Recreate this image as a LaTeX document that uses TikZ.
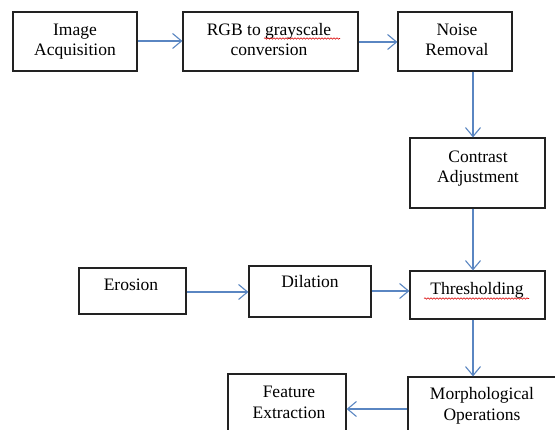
\documentclass[tikz,border=0pt]{standalone}
\usepackage{fontspec}
\setmainfont{Liberation Serif}
\usetikzlibrary{arrows.meta,decorations.pathmorphing}
\definecolor{arrowblue}{HTML}{5A86C2}
\definecolor{boxline}{HTML}{222222}
\newcommand\dualline[2]{\begin{tabular}[t]{@{}c@{}}#1\\#2\end{tabular}}
\tikzset{
  stagebox/.style={draw=boxline, line width=1.2pt, fill=white, inner sep=0pt},
  lbl/.style={anchor=base, inner sep=0pt, font=\fontsize{17.5}{20.5}\selectfont},
  flow/.style={draw=arrowblue, line width=1.1pt, -{Straight Barb[length=9pt,width=15pt,line width=1.1pt]}},
  spell/.style={draw=red!85!black, line width=0.6pt, decorate, decoration={snake, amplitude=0.7pt, segment length=3pt}}
}
\begin{document}
\begin{tikzpicture}[x=1pt,y=-1pt]
\useasboundingbox (0,0) rectangle (555,430);
\clip (0,0) rectangle (555,430);
\fill[white] (0,0) rectangle (555,430);
% boxes
\node[stagebox, minimum width=124pt, minimum height=59pt] (ia) at (75,41.5) {};
\node[stagebox, minimum width=175pt, minimum height=59pt] (rgb) at (270.5,41.5) {};
\node[stagebox, minimum width=114pt, minimum height=59pt] (nr) at (455,41.5) {};
\node[stagebox, minimum width=135pt, minimum height=70pt] (ca) at (477.5,173) {};
\node[stagebox, minimum width=135pt, minimum height=48pt] (th) at (477.5,295) {};
\node[stagebox, minimum width=107pt, minimum height=46pt] (er) at (132.5,291) {};
\node[stagebox, minimum width=122pt, minimum height=51pt] (di) at (310,291.5) {};
\node[stagebox, minimum width=152pt, minimum height=73pt] (mo) at (484,413.5) {};
\node[stagebox, minimum width=118pt, minimum height=76pt] (fe) at (287,412) {};
% labels
\node[lbl] (ia-t) at (75,35.5) {\dualline{Image}{Acquisition}};
\node[lbl] (rgb-t) at (269,35.5) {\dualline{RGB to grayscale}{conversion}};
\node[lbl] (nr-t) at (457,35.5) {\dualline{Noise}{Removal}};
\node[lbl] (ca-t) at (478,162.5) {\dualline{Contrast}{Adjustment}};
\node[lbl] (th-t) at (477,295) {Thresholding};
\node[lbl] (er-t) at (131,291) {Erosion};
\node[lbl] (di-t) at (310,288) {Dilation};
\node[lbl] (mo-t) at (482,400) {\dualline{Morphological}{Operations}};
\node[lbl] (fe-t) at (289,398) {\dualline{Feature}{Extraction}};
% spell-check underlines
\coordinate (sp1a) at (264,38.5);
\coordinate (sp1b) at (340,38.5);
\coordinate (sp2a) at (424,298.5);
\coordinate (sp2b) at (529,298.5);
\draw[spell] (sp1a) -- (sp1b);
\draw[spell] (sp2a) -- (sp2b);
% guide coordinates
\coordinate (vx) at (473,0);
\coordinate (y41) at (0,41);
\coordinate (y42) at (0,42);
\coordinate (y292) at (0,292);
\coordinate (y291) at (0,291);
\coordinate (y409) at (0,409);
% connectors
\draw[flow] (ia.east |- y41) -- (rgb.west |- y41);
\draw[flow] (rgb.east |- y42) -- (nr.west |- y42);
\draw[flow] (nr.south -| vx) -- (ca.north -| vx);
\draw[flow] (ca.south -| vx) -- (th.north -| vx);
\draw[flow] (er.east |- y292) -- (di.west |- y292);
\draw[flow] (di.east |- y291) -- (th.west |- y291);
\draw[flow] (th.south -| vx) -- (mo.north -| vx);
\draw[flow] (mo.west |- y409) -- (fe.east |- y409);
\end{tikzpicture}
\end{document}
